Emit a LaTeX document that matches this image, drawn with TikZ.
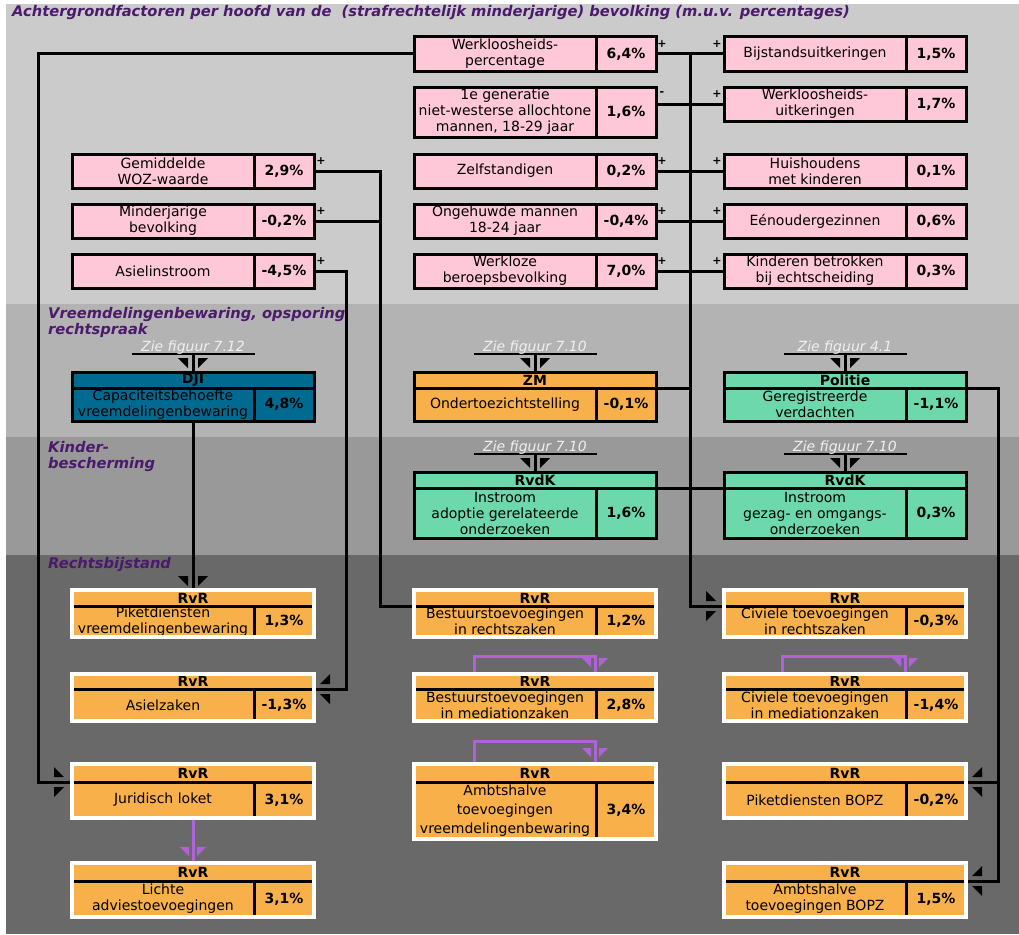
\documentclass[tikz,border=0pt]{standalone}
\usepackage{fontspec}
\setmainfont{DejaVu Sans}[BoldFont={DejaVu Sans Bold},ItalicFont={DejaVu Sans Oblique},BoldItalicFont={DejaVu Sans Bold Oblique}]
\usetikzlibrary{fit,calc}
\definecolor{band1}{HTML}{CBCBCB}
\definecolor{band2}{HTML}{B3B3B3}
\definecolor{band3}{HTML}{999999}
\definecolor{band4}{HTML}{696969}
\definecolor{ttl}{HTML}{4C1A6C}
\definecolor{pinkbox}{HTML}{FFC8D8}
\definecolor{orangebox}{HTML}{F8B04A}
\definecolor{djibox}{HTML}{006A91}
\definecolor{greenbox}{HTML}{6CD8AC}
\definecolor{purp}{HTML}{B062D8}
\definecolor{ziecol}{HTML}{F0F0F0}
\pgfdeclarelayer{bands}
\pgfdeclarelayer{lines}
\pgfsetlayers{bands,lines,main}
\newcommand\lbl{\fontsize{14}{16}\selectfont}
\tikzset{
  cell/.style={draw=black, line width=3pt, inner sep=0pt, outer sep=0pt, align=center, anchor=north west, font=\lbl, text=black},
  pc/.style={cell, fill=pinkbox},
  orc/.style={cell, fill=orangebox},
  gc/.style={cell, fill=greenbox},
  dc/.style={cell, fill=djibox},
  conn/.style={draw=black, line width=3pt},
  pconn/.style={draw=purp, line width=3pt},
  sign/.style={font=\fontsize{11}{11}\selectfont\bfseries, inner sep=0pt, text=black},
  sec/.style={font=\fontsize{14.7}{16.5}\selectfont\bfseries\itshape, text=ttl, inner sep=0pt, align=left, anchor=north west},
  ziet/.style={font=\fontsize{14}{16}\selectfont\itshape, text=ziecol, inner sep=0pt}
}
\newcommand\twocell[7]{%
  \node[#2, minimum width=182pt, minimum height=#5pt] (#1) at (#3,#4) {#6};
  \node[#2, minimum width=60pt, minimum height=#5pt, font=\lbl\bfseries] (#1v) at (#1.north east) {#7};}
\newcommand\hcell[6]{%
  \node[#2, minimum width=242pt, minimum height=#5pt, font=\lbl\bfseries] (#1) at (#3,#4) {#6};}
\newcommand\rvr[7]{%
  \node[orc, minimum width=242pt, minimum height=#4pt, font=\lbl\bfseries] (#1h) at (#2,#3) {RvR};
  \twocell{#1}{orc}{#2}{#3+#4}{#5}{#6}{#7}
  \node[fit=(#1h)(#1)(#1v), draw=white, line width=4.5pt, inner sep=0pt, outer sep=0pt] (#1box) {};}
\newcommand\arrD[2][black]{\fill[#1,shift={#2}] (-15,-14) -- (-5,-14) -- (-5,-4) -- cycle (5,-14) -- (15,-14) -- (5,-4) -- cycle;}
\newcommand\arrDs[2][purp]{\fill[#1,shift={#2}] (-13,-16) -- (-4,-16) -- (-4,-7) -- cycle (4,-16) -- (13,-16) -- (4,-7) -- cycle;}
\newcommand\arrR[2][black]{\fill[#1,shift={#2}] (-18,-15) -- (-18,-5) -- (-8,-5) -- cycle (-18,5) -- (-8,5) -- (-18,15) -- cycle;}
\newcommand\arrL[2][black]{\fill[#1,shift={#2}] (6,-5) -- (16,-5) -- (16,-15) -- cycle (6,5) -- (16,5) -- (16,15) -- cycle;}
\newcommand\zie[2]{%
  \node[ziet, anchor=base] (#1zie) at ($(#1.north)+(0,-21)$) {#2};
  \begin{pgfonlayer}{lines}
  \draw[conn, line width=2.4pt] ($(#1.north)+(-61.5,-18)$) -- ($(#1.north)+(61.5,-18)$);
  \draw[conn] ($(#1.north)+(0,-18)$) -- (#1.north);
  \end{pgfonlayer}
  \arrD{(#1.north)}}
\begin{document}
\begin{tikzpicture}[x=1pt,y=-1pt]
\useasboundingbox (0,0) rectangle (1019,934);
\begin{pgfonlayer}{bands}
\fill[white] (0,0) rectangle (1019,934);
\fill[band1] (6,4) rectangle (1019,304);
\fill[band2] (6,304) rectangle (1019,437);
\fill[band3] (6,437) rectangle (1019,555);
\fill[band4] (6,555) rectangle (1019,934);
\end{pgfonlayer}

% titles
\node[sec, anchor=base west] (title) at (12,17) {Achtergrondfactoren per hoofd van de\ \ (strafrechtelijk minderjarige) bevolking (m.u.v. percentages)};
\node[sec] (secv) at (48,307) {Vreemdelingenbewaring, opsporing\\rechtspraak};
\node[sec] (seck) at (48,441) {Kinder-\\bescherming};
\node[sec] (secr) at (48,557) {Rechtsbijstand};

% background factors
\twocell{c1}{pc}{414}{37}{34}{Werkloosheids-\\percentage}{6,4\%}
\twocell{c2}{pc}{414}{87}{50}{1e generatie\\niet-westerse allochtone\\mannen, 18-29 jaar}{1,6\%}
\twocell{c3}{pc}{414}{154}{34}{Zelfstandigen}{0,2\%}
\twocell{c4}{pc}{414}{204}{34}{Ongehuwde mannen\\18-24 jaar}{-0,4\%}
\twocell{c5}{pc}{414}{254}{34}{Werkloze\\beroepsbevolking}{7,0\%}
\twocell{r1}{pc}{724}{37}{34}{Bijstandsuitkeringen}{1,5\%}
\twocell{r2}{pc}{724}{87}{34}{Werkloosheids-\\uitkeringen}{1,7\%}
\twocell{r3}{pc}{724}{154}{34}{Huishoudens\\met kinderen}{0,1\%}
\twocell{r4}{pc}{724}{204}{34}{Eénoudergezinnen}{0,6\%}
\twocell{r5}{pc}{724}{254}{34}{Kinderen betrokken\\bij echtscheiding}{0,3\%}
\twocell{l1}{pc}{72}{154}{34}{Gemiddelde\\WOZ-waarde}{2,9\%}
\twocell{l2}{pc}{72}{204}{34}{Minderjarige\\bevolking}{-0,2\%}
\twocell{l3}{pc}{72}{254}{34}{Asielinstroom}{-4,5\%}

% organisations
\hcell{dji}{dc}{72}{372}{16}{DJI}
\twocell{djib}{dc}{72}{388}{33}{Capaciteitsbehoefte\\vreemdelingenbewaring}{4,8\%}
\hcell{zm}{orc}{414}{372}{16}{ZM}
\twocell{zmb}{orc}{414}{388}{33}{Ondertoezichtstelling}{-0,1\%}
\hcell{pol}{gc}{724}{372}{16}{Politie}
\twocell{polb}{gc}{724}{388}{33}{Geregistreerde\\verdachten}{-1,1\%}
\hcell{rk1}{gc}{414}{472}{16}{RvdK}
\twocell{rk1b}{gc}{414}{488}{50}{Instroom\\adoptie gerelateerde\\onderzoeken}{1,6\%}
\hcell{rk2}{gc}{724}{472}{16}{RvdK}
\twocell{rk2b}{gc}{724}{488}{50}{Instroom\\gezag- en omgangs-\\onderzoeken}{0,3\%}

% legal aid
\rvr{pv}{72}{590}{16}{31}{Piketdiensten\\vreemdelingenbewaring}{1,3\%}
\rvr{az}{72}{674}{15}{32}{Asielzaken}{-1,3\%}
\rvr{jl}{72}{764}{18}{36}{Juridisch loket}{3,1\%}
\rvr{la}{72}{863}{18}{36}{Lichte\\adviestoevoegingen}{3,1\%}
\rvr{br}{414}{590}{16}{31}{Bestuurstoevoegingen\\in rechtszaken}{1,2\%}
\rvr{bm}{414}{674}{15}{32}{Bestuurstoevoegingen\\in mediationzaken}{2,8\%}
\rvr{av}{414}{764}{18}{57}{Ambtshalve\\[3pt]toevoegingen\\[3pt]vreemdelingenbewaring}{3,4\%}
\rvr{cr}{724}{590}{16}{31}{Civiele toevoegingen\\in rechtszaken}{-0,3\%}
\rvr{cm}{724}{674}{15}{32}{Civiele toevoegingen\\in mediationzaken}{-1,4\%}
\rvr{pb}{724}{764}{18}{36}{Piketdiensten BOPZ}{-0,2\%}
\rvr{ab}{724}{863}{18}{36}{Ambtshalve\\toevoegingen BOPZ}{1,5\%}

% Zie figuur
\zie{dji}{Zie figuur 7.12}
\zie{zm}{Zie figuur 7.10}
\zie{pol}{Zie figuur 4.1}
\zie{rk1}{Zie figuur 7.10}
\zie{rk2}{Zie figuur 7.10}

% connectors
\begin{pgfonlayer}{lines}
\coordinate (tk) at ($(c1v.east)!0.5!(r1.west)$);
\coordinate (lc) at (38,0);
\coordinate (mc) at (380,0);
\coordinate (ac) at (346,0);
\coordinate (pc) at (998,0);
\draw[conn] (c1v.east) -- (r1.west);
\draw[conn] (c2v.east |- r2.west) -- (r2.west);
\draw[conn] (c3v.east) -- (r3.west);
\draw[conn] (c4v.east) -- (r4.west);
\draw[conn] (c5v.east) -- (r5.west);
\draw[conn] (tk) |- (cr.north west);
\draw[conn] (zmbv.north east) -- (zmbv.north east -| tk);
\draw[conn] (rk1bv.north east) -- (rk2b.north west);
\draw[conn] (c1.west) -- (c1.west -| lc) |- (jl.north west);
\draw[conn] (l1v.east) -- (l1v.east -| mc) |- (br.north west);
\draw[conn] (l2v.east) -- (l2v.east -| mc);
\draw[conn] (l3v.east) -- (l3v.east -| ac) |- (azv.north east);
\draw[conn] (dji.center |- djib.south) -- (pvh.north);
\draw[conn] (polbv.north east) -- (polbv.north east -| pc) |- (abv.north east);
\draw[conn] (pbv.north east -| pc) -- (pbv.north east);
\draw[pconn] ($(bmh.north west)+(60,0)$) -- ++(0,-18) -| ($(bmh.north west)+(181,0)$);
\draw[pconn] ($(cmh.north west)+(58,0)$) -- ++(0,-18) -| ($(cmh.north west)+(181,0)$);
\draw[pconn] ($(avh.north west)+(60,0)$) -- ++(0,-23) -| ($(avh.north west)+(181,0)$);
\draw[pconn] (jlh.center |- jl.south) -- (lah.north);
\end{pgfonlayer}

% arrowheads
\arrD{(pvh.north)}
\arrL{(azv.north east)}
\arrL{(pbv.north east)}
\arrL{(abv.north east)}
\arrR{(jl.north west)}
\arrR{(cr.north west)}
\arrDs{($(bmh.north west)+(181,0)$)}
\arrDs{($(cmh.north west)+(181,0)$)}
\arrDs{($(avh.north west)+(181,0)$)}
\arrDs{(lah.north)}

% signs
\node[sign] (s1) at ($(c1v.east)+(6,-10)$) {+};
\node[sign] (s2) at ($(c2v.east |- r2.west)+(6,-10)$) {-};
\node[sign] (s3) at ($(c3v.east)+(6,-10)$) {+};
\node[sign] (s4) at ($(c4v.east)+(6,-10)$) {+};
\node[sign] (s5) at ($(c5v.east)+(6,-10)$) {+};
\node[sign] (t1) at ($(r1.west)+(-7,-10)$) {+};
\node[sign] (t2) at ($(r2.west)+(-7,-10)$) {+};
\node[sign] (t3) at ($(r3.west)+(-7,-10)$) {+};
\node[sign] (t4) at ($(r4.west)+(-7,-10)$) {+};
\node[sign] (t5) at ($(r5.west)+(-7,-10)$) {+};
\node[sign] (u1) at ($(l1v.east)+(7,-10)$) {+};
\node[sign] (u2) at ($(l2v.east)+(7,-10)$) {+};
\node[sign] (u3) at ($(l3v.east)+(7,-10)$) {+};
\end{tikzpicture}
\end{document}
